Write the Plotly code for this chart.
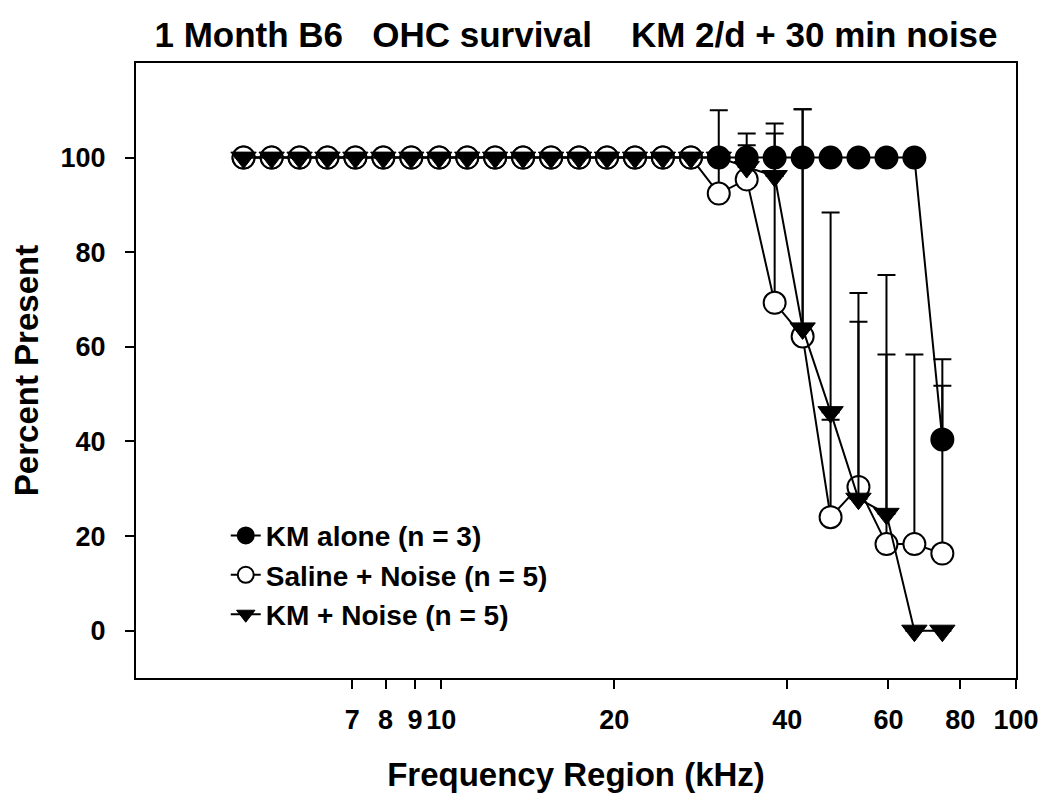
import plotly.graph_objects as go

# Frequency regions (kHz) (log-spaced cochlear regions)
freq_khz = [4.53, 5.07, 5.67, 6.34, 7.09, 7.93, 8.87, 9.92, 11.10, 12.41,
            13.88, 15.53, 17.37, 19.43, 21.73, 24.30, 27.19, 30.40, 34.00,
            38.03, 42.54, 47.58, 53.20, 59.52, 66.56, 74.45]

# Percent present
km_alone = [100, 100, 100, 100, 100, 100, 100, 100, 100, 100, 100, 100, 100,
            100, 100, 100, 100, 100, 100, 100, 100, 100, 100, 100, 100, 40.4]
saline_noise = [100, 100, 100, 100, 100, 100, 100, 100, 100, 100, 100, 100, 100,
                100, 100, 100, 100, 92.4, 95.4, 69.3, 62.2, 24.0, 30.4, 18.3, 18.3, 16.3]
km_noise = [100, 100, 100, 100, 100, 100, 100, 100, 100, 100, 100, 100, 100,
            100, 100, 100, 100, 100, 98.0, 96.1, 63.9, 46.2, 27.9, 24.7, 0, 0]

# Upward error bars (SD)
km_alone_err = [0] * 25 + [17.0]
saline_noise_err = [0] * 17 + [17.6, 9.7, 37.9, 48.0, 20.6, 34.9, 40.1, 40.1, 35.5]
km_noise_err = [0] * 18 + [4.6, 9.0, 46.3, 42.2, 43.5, 50.5, 0, 0]

names = ["KM alone (n = 3)", "Saline + Noise (n = 5)", "KM + Noise (n = 5)"]

xticks = [7, 8, 9, 10, 20, 40, 60, 80, 100]
xticktext = ["7", "8", "9", "10", "20", "40", "60", "80", "100"]
yticks = [0, 20, 40, 60, 80, 100]
yticktext = ["0", "20", "40", "60", "80", "100"]

FONT = "Liberation Sans, Arial, Helvetica, sans-serif"


def err(arr):
    return dict(type="data", symmetric=False, array=arr, arrayminus=[0] * len(arr),
                color="black", thickness=2, width=9)


fig = go.Figure()
fig.add_trace(go.Scatter(
    x=freq_khz, y=km_alone, name=names[0], mode="lines+markers",
    line=dict(color="black", width=2),
    marker=dict(symbol="circle", size=22, color="black", line=dict(color="black", width=2)),
    error_y=err(km_alone_err)))
fig.add_trace(go.Scatter(
    x=freq_khz, y=saline_noise, name=names[1], mode="lines+markers",
    line=dict(color="black", width=2),
    marker=dict(symbol="circle", size=22, color="white", line=dict(color="black", width=2)),
    error_y=err(saline_noise_err)))
fig.add_trace(go.Scatter(
    x=freq_khz, y=km_noise, name=names[2], mode="lines+markers",
    line=dict(color="black", width=2),
    marker=dict(symbol="triangle-down", size=22, color="black", line=dict(color="black", width=1)),
    error_y=err(km_noise_err)))

axis_common = dict(
    showgrid=False, zeroline=False, showline=True, linecolor="black", linewidth=2,
    mirror=True, ticks="outside", ticklen=9, tickwidth=2, tickcolor="black",
    tickfont=dict(family=FONT, size=27, color="black", weight="bold"),
)

fig.update_xaxes(
    type="log", range=[0.469, 2.0], tickvals=xticks, ticktext=xticktext,
    title=dict(text="Frequency Region (kHz)", standoff=28,
               font=dict(family=FONT, size=33, color="black", weight="bold")),
    ticklabelstandoff=8,
    **axis_common)
fig.update_yaxes(
    range=[-10, 120], tickvals=yticks, ticktext=yticktext,
    title=dict(text="Percent Present", standoff=16,
               font=dict(family=FONT, size=33, color="black", weight="bold")),
    ticklabelstandoff=14,
    **axis_common)

# page body has an 8px margin: figure is 1042x796 placed at (8, 8)
fig.update_layout(
    width=1042, height=796,
    margin=dict(l=128, r=34, t=55, b=126),
    paper_bgcolor="white", plot_bgcolor="white",
    title=dict(text="1 Month B6\u00a0\u00a0\u00a0OHC survival\u00a0\u00a0\u00a0\u00a0KM 2/d + 30 min noise",
               x=0.5, xref="paper", xanchor="center",
               y=0.966, yref="container", yanchor="middle",
               font=dict(family=FONT, size=35, color="black", weight="bold")),
    legend=dict(x=0.102, y=0.272, xanchor="left", yanchor="top",
                bgcolor="rgba(0,0,0,0)", borderwidth=0, itemsizing="trace",
                tracegroupgap=0,
                font=dict(family=FONT, size=28, color="black", weight="bold")),
    showlegend=True,
)

fig.write_html("out.html")
